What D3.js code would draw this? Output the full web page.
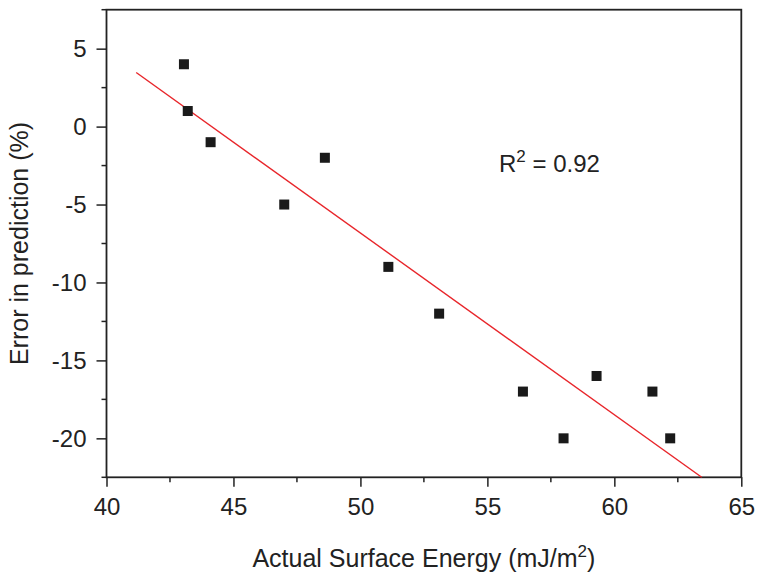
<!DOCTYPE html>
<html><head><meta charset="utf-8">
<script src="https://cdn.jsdelivr.net/npm/d3@7"></script>
<style>body{margin:0;background:#fff}text{font-family:"Liberation Sans",Arial,sans-serif}</style>
</head><body>
<script>
const xs = [43.05, 43.2, 44.1, 47.0, 48.6, 51.1, 53.1, 56.4, 58.0, 59.3, 61.5, 62.2];
const ys = [4, 1, -1, -5, -2, -9, -12, -17, -20, -16, -17, -20];
const fitX = [41.17, 63.44];
const fitY = [3.47, -22.5];
const xTicks = [40, 45, 50, 55, 60, 65];
const yTicks = [5, 0, -5, -10, -15, -20];

const W = 764, H = 573;
const m = {l: 106.5, r: 764 - 741.3, t: 9.7, b: 573 - 477.3};
const svg = d3.select("body").append("svg").attr("width", W).attr("height", H);
const x = d3.scaleLinear().domain([40, 65]).range([m.l, W - m.r]);
const y = d3.scaleLinear().domain([-22.5, 7.5]).range([H - m.b, m.t]);
const fs = 24, ts = 25;

// minor ticks
const xMinor = d3.range(42.5, 65, 5);
const yMinor = d3.range(-22.5, 7.6, 5);
svg.append("g").selectAll("line").data(xMinor).join("line")
  .attr("x1", d => x(d)).attr("x2", d => x(d))
  .attr("y1", y(-22.5)).attr("y2", y(-22.5) + 5)
  .attr("stroke", "#222").attr("stroke-width", 1.5);
svg.append("g").selectAll("line").data(yMinor).join("line")
  .attr("y1", d => y(d)).attr("y2", d => y(d))
  .attr("x1", x(40)).attr("x2", x(40) - 5)
  .attr("stroke", "#222").attr("stroke-width", 1.5);

const xAxis = svg.append("g").attr("transform", `translate(0,${y(-22.5)})`)
  .call(d3.axisBottom(x).tickValues(xTicks).tickSize(9.5).tickPadding(11));
const yAxis = svg.append("g").attr("transform", `translate(${x(40)},0)`)
  .call(d3.axisLeft(y).tickValues(yTicks).tickSize(10).tickPadding(10).tickFormat(d3.format("d")));
[xAxis, yAxis].forEach(a => {
  a.select(".domain").remove();
  a.selectAll("line").attr("stroke", "#222").attr("stroke-width", 1.5);
  a.selectAll("text").attr("font-size", fs).attr("fill", "#222")
    .style("font-family", '"Liberation Sans",Arial,sans-serif');
});
yAxis.selectAll("text").text(d => d < 0 ? "-" + Math.abs(d) : d);

// frame
svg.append("rect").attr("x", x(40)).attr("y", y(7.5))
  .attr("width", x(65) - x(40)).attr("height", y(-22.5) - y(7.5))
  .attr("fill", "none").attr("stroke", "#222").attr("stroke-width", 1.8);

// fit line
svg.append("line").attr("x1", x(fitX[0])).attr("y1", y(fitY[0]))
  .attr("x2", x(fitX[1])).attr("y2", y(fitY[1]))
  .attr("stroke", "#e8262b").attr("stroke-width", 1.4);

// points
const s = 10;
svg.append("g").selectAll("rect").data(xs.map((d, i) => [d, ys[i]])).join("rect")
  .attr("x", d => x(d[0]) - s / 2).attr("y", d => y(d[1]) - s / 2)
  .attr("width", s).attr("height", s).attr("fill", "#1a1a1a");

// R2 label
const r = svg.append("text").attr("x", 499).attr("y", 172).attr("font-size", fs).attr("fill", "#222");
r.append("tspan").text("R");
r.append("tspan").attr("font-size", 17).attr("dy", -10).text("2");
r.append("tspan").attr("dy", 10).text(" = 0.92");

// axis titles
const xt = svg.append("text").attr("x", x(52.5)).attr("y", 567).attr("text-anchor", "middle")
  .attr("font-size", ts).attr("fill", "#222");
xt.append("tspan").text("Actual Surface Energy (mJ/m");
xt.append("tspan").attr("font-size", 17).attr("dy", -10).text("2");
xt.append("tspan").attr("dy", 10).text(")");

svg.append("text").attr("transform", `translate(28,${y(-7.5)}) rotate(-90)`)
  .attr("text-anchor", "middle").attr("font-size", ts).attr("fill", "#222")
  .text("Error in prediction (%)");
</script>
</body></html>
